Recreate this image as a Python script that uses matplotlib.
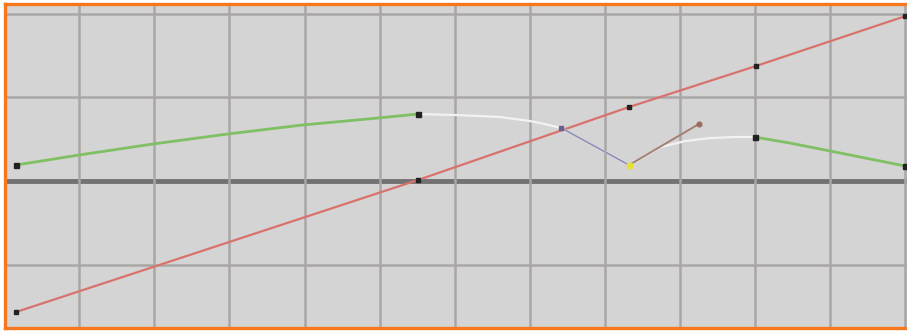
import numpy as np
import matplotlib
matplotlib.use("Agg")
import matplotlib.pyplot as plt

# values, in grid units (1 unit = one grid cell)
red_x = [0.16, 5.51, 8.32, 10.01, 12.0]
red_y = [-1.565, 0.012, 0.884, 1.374, 1.971]

green1_x = [0.16, 1.0, 1.98, 2.98, 3.97, 4.98, 5.51]
green1_y = [0.191, 0.311, 0.442, 0.562, 0.669, 0.753, 0.800]

white1_x = [5.51, 6.0, 6.34, 6.6, 7.0, 7.2, 7.42, 8.32]
white1_y = [0.800, 0.789, 0.776, 0.765, 0.717, 0.680, 0.633, 0.191]

white2_x = [8.32, 8.74, 9.07, 9.40, 9.73, 9.99]
white2_y = [0.191, 0.406, 0.478, 0.513, 0.526, 0.526]

green2_x = [9.99, 10.47, 11.0, 11.53, 12.0]
green2_y = [0.526, 0.452, 0.358, 0.263, 0.179]

handle_left_x = [7.42, 8.32]
handle_left_y = [0.633, 0.191]
handle_right_x = [8.32, 9.25]
handle_right_y = [0.191, 0.681]

key_x = [0.16, 5.51, 9.99, 12.0]
key_y = [0.191, 0.800, 0.526, 0.179]

fig = plt.figure(figsize=(9.07, 3.31), dpi=100, facecolor="white")
ax = fig.add_axes([5 / 907, 3 / 331, 902 / 907, 324 / 331])
ax.set_facecolor("#d4d4d4")

ax.set_xlim(0.013, 12.02)
ax.set_ylim(-1.756, 2.115)

ax.set_xticks(np.arange(1, 13))
ax.set_yticks([-1, 1, 2])
ax.tick_params(length=0, labelbottom=False, labelleft=False)
ax.grid(True, color="#aaa6a6", linewidth=1.8)
ax.axhline(0, color="#727272", linewidth=3.5, zorder=1)

for side in ["left", "top", "bottom"]:
    ax.spines[side].set_color("#f5781e")
    ax.spines[side].set_linewidth(2.4)
ax.spines["right"].set_visible(False)

ax.plot(red_x, red_y, color="#d9726c", linewidth=1.6, zorder=3)
ax.plot(green1_x, green1_y, color="#80c064", linewidth=2.0, zorder=3)
ax.plot(green2_x, green2_y, color="#80c064", linewidth=2.0, zorder=3)
ax.plot(white1_x, white1_y, color="#f2f2f2", linewidth=1.6, zorder=3)
ax.plot(white2_x, white2_y, color="#f2f2f2", linewidth=1.6, zorder=3)
ax.plot(handle_left_x, handle_left_y, color="#8c8cb4", linewidth=1.2, zorder=4)
ax.plot(handle_right_x, handle_right_y, color="#a57e74", linewidth=1.4, zorder=4)

ax.plot(red_x, red_y, "s", color="#222222", markersize=3.2, zorder=5, clip_on=False)
ax.plot(key_x, key_y, "s", color="#222222", markersize=3.6, zorder=5, clip_on=False)
ax.plot(handle_left_x[0], handle_left_y[0], "s", color="#6e5e8e", markersize=3.2, zorder=5)
ax.plot(handle_right_x[1], handle_right_y[1], "o", color="#9c6c62", markersize=3.4, zorder=5)
ax.plot(handle_left_x[1], handle_left_y[1], "s", color="#e6e034", markersize=3.6, zorder=6)

fig.savefig("out.png", dpi=100, facecolor=fig.get_facecolor())
